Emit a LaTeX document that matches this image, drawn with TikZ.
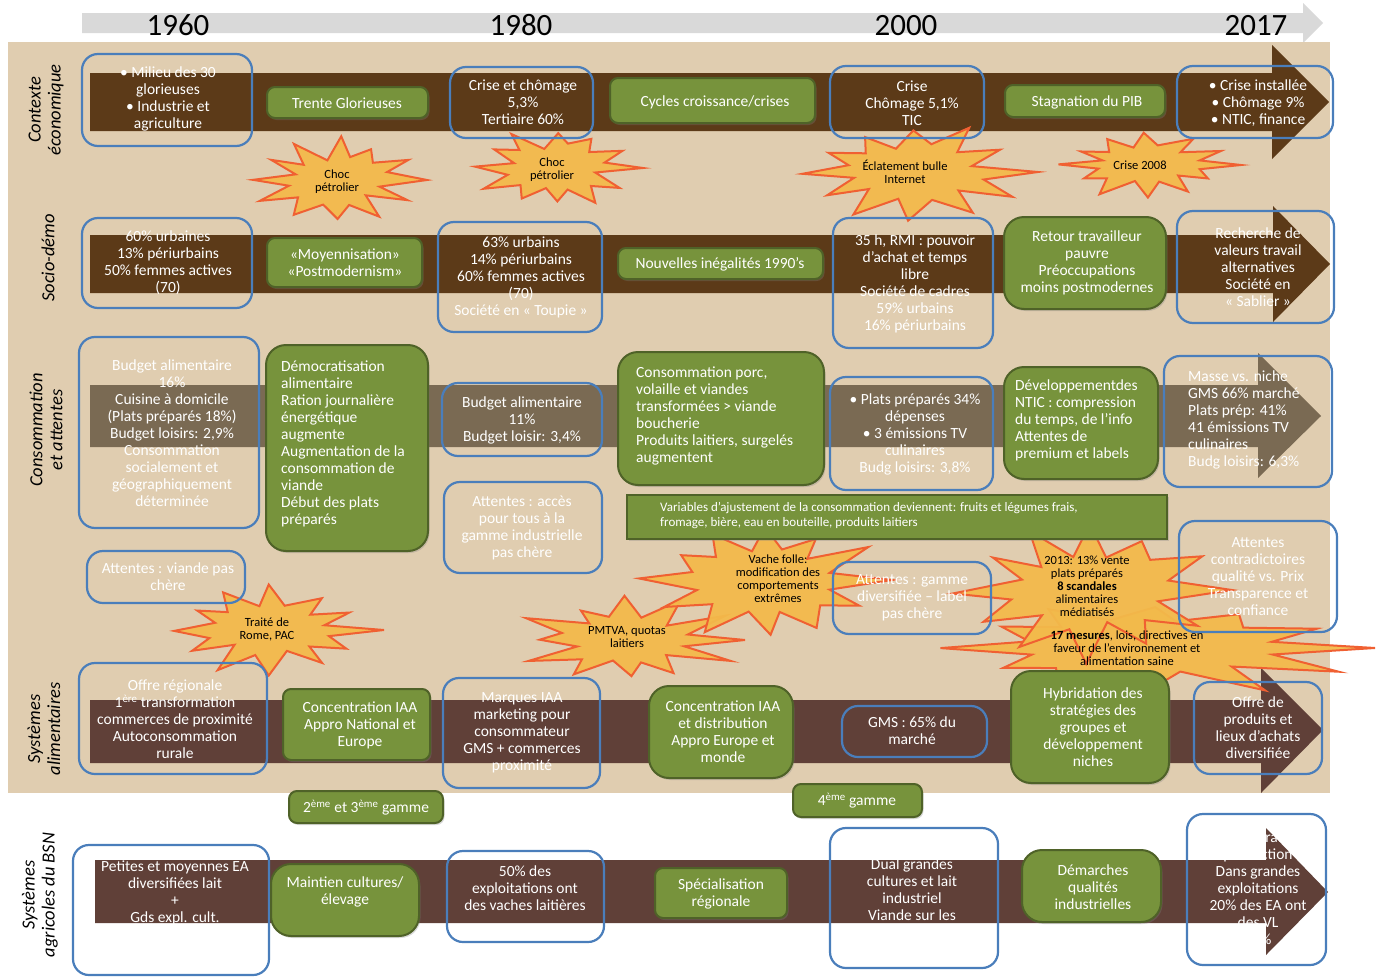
\documentclass[tikz,border=0pt]{standalone}
\usepackage{fontspec}
\setmainfont{Carlito}
\usetikzlibrary{shadows}
\definecolor{beige}{RGB}{224,205,176}
\definecolor{bandA}{RGB}{92,58,24}
\definecolor{bandC}{RGB}{122,106,83}
\definecolor{bandD}{RGB}{96,64,56}
\definecolor{myblue}{RGB}{74,126,187}
\definecolor{mygreen}{RGB}{119,147,60}
\definecolor{mygreendark}{RGB}{79,98,40}
\definecolor{burstfill}{RGB}{243,186,75}
\definecolor{burstline}{RGB}{240,96,50}
\definecolor{timegrey}{RGB}{217,217,217}
\tikzset{
 wt/.style={text=white, font=\fontsize{15.5}{17}\selectfont, align=center, inner sep=0pt},
 wtl/.style={wt, align=left, anchor=north west},
 bt/.style={text=black, font=\fontsize{12.5}{13}\selectfont, align=center, inner sep=0pt},
 bluebox/.style={draw=myblue, line width=2.2pt, rounded corners=16pt},
 greenbox/.style={draw=mygreendark, fill=mygreen, line width=2pt, rounded corners=8pt,
   drop shadow={shadow xshift=1.5pt, shadow yshift=-2pt, opacity=0.3}},
 biggreen/.style={greenbox, rounded corners=20pt},
 rowlabel/.style={font=\fontsize{18.5}{20}\selectfont\itshape, align=center, rotate=90, inner sep=0pt},
 year/.style={font=\fontsize{31}{31}\selectfont, anchor=base, inner sep=0pt},
 burstshape/.style={fill=burstfill, draw=burstline, line width=2pt, line join=miter, fill opacity=0.95},
}
\newcommand\bx[6][]{\node[#1, minimum width={#5-#3}, minimum height={#6-#4}, inner sep=0pt] (#2) at ({(#3+#5)/2},{(#4+#6)/2}) {};}
\newcommand\burst[5]{%
 \pgfmathsetseed{#5}%
 \draw[burstshape, shift={(#1,#2)}] (#3,0)
 \foreach \ii [evaluate=\ii as \burstr using {(mod(\ii,2)==0) ? (0.75+0.25*rnd) : (0.45+0.14*rnd)},
               evaluate=\ii as \bursta using {\ii*15+6*(rnd-0.5)}] in {1,...,23}
   { -- ({\burstr*#3*cos(\bursta)},{\burstr*#4*sin(\bursta)}) } -- cycle;}
\begin{document}
\begin{tikzpicture}[x=1pt,y=-1pt]
\useasboundingbox (0,0) rectangle (1379,977);
% timeline
\fill[timegrey] (82,13) -- (1303,13) -- (1303,3) -- (1323,23) -- (1303,43) -- (1303,33) -- (82,33) -- cycle;
\node[year] (y1960) at (178,35) {1960};
\node[year] (y1980) at (521,35) {1980};
\node[year] (y2000) at (906,35) {2000};
\node[year] (y2017) at (1256,35) {2017};
% background
\fill[beige] (8,42) rectangle (1330,793);
% bands
\fill[bandA] (90,73) -- (1272,73) -- (1272,45) -- (1329,102) -- (1272,159) -- (1272,131) -- (90,131) -- cycle;
\fill[bandA] (90,235) -- (1273,235) -- (1273,206) -- (1330,264) -- (1273,322) -- (1273,293) -- (90,293) -- cycle;
\fill[bandC] (90,385) -- (1258,385) -- (1258,353) -- (1321,416) -- (1258,478) -- (1258,447) -- (90,447) -- cycle;
\fill[bandD] (90,700) -- (1261,700) -- (1261,668) -- (1323,730) -- (1261,793) -- (1261,763) -- (90,763) -- cycle;
\fill[bandD] (95,860) -- (1266,860) -- (1266,828) -- (1328,892) -- (1266,955) -- (1266,923) -- (95,923) -- cycle;
% row labels
\node[rowlabel] (l1) at (46,110) {Contexte\\économique};
\node[rowlabel] (l2) at (48,258) {Socio-démo};
\node[rowlabel] (l3) at (46,430) {Consommation\\et attentes};
\node[rowlabel] (l4) at (44,729) {Systèmes\\alimentaires};
\node[rowlabel] (l5) at (40,895) {Systèmes\\agricoles du BSN};
% bursts
\burst{337}{180}{90}{44}{3}
\burst{555}{168}{88}{43}{7}
\burst{913}{172}{125}{53}{11}
\burst{1146}{165}{95}{34}{5}
\burst{272}{630}{112}{46}{13}
\burst{628}{640}{117}{46}{17}
\burst{1150}{648}{225}{50}{29}
\burst{1090}{590}{142}{74}{23}
\burst{765}{580}{127}{64}{19}
\node[bt] (s1) at (337,182) {Choc\\pétrolier};
\node[bt] (s2) at (552,170) {Choc\\pétrolier};
\node[bt] (s3) at (905,172) {Éclatement bulle\\Internet};
\node[bt] (s4) at (1140,165) {Crise 2008};
\node[bt] (s5) at (267,629) {Traité de\\Rome, PAC};
\node[bt] (s6) at (627,637) {PMTVA, quotas\\laitiers};
\node[bt] (s7) at (778,579) {Vache folle:\\modification des\\comportements\\extrêmes};
\node[bt] (s8) at (1087,586) {2013: 13\% vente\\plats préparés\\\textbf{8 scandales}\\alimentaires\\médiatisés};
\node[bt] (s9) at (1127,648) {\textbf{17 mesures}, lois, directives en\\faveur de l’environnement et\\alimentation saine};
% row 1
\bx[bluebox]{b1}{82}{54}{252}{146}
\node[wt] (t1) at (168,99) {• Milieu des 30\\glorieuses\\• Industrie et\\agriculture};
\bx[greenbox]{g1}{267}{87}{428}{118}
\node[wt] (u1) at (347,103) {Trente Glorieuses};
\bx[bluebox]{b2}{450}{67}{593}{138}
\node[wt] (t2) at (523,102) {Crise et chômage\\5,3\%\\Tertiaire 60\%};
\bx[greenbox]{g2}{610}{78}{815}{123}
\node[wt] (u2) at (715,102) {Cycles croissance/crises};
\bx[bluebox]{b3}{830}{66}{984}{138}
\node[wt] (t3) at (912,103) {Crise\\Chômage 5,1\%\\TIC};
\bx[greenbox]{g3}{1005}{85}{1165}{117}
\node[wt] (u3) at (1087,102) {Stagnation du PIB};
\bx[bluebox]{b4}{1177}{66}{1333}{138}
\node[wt] (t4) at (1258,103) {• Crise installée\\• Chômage 9\%\\• NTIC, finance};
% row 2
\bx[bluebox]{b5}{82}{218}{252}{308}
\node[wt] (t5) at (168,263) {60\% urbaines\\13\% périurbains\\50\% femmes actives\\(70)};
\bx[greenbox]{g4}{267}{238}{422}{287}
\node[wt] (u4) at (345,263) {«Moyennisation»\\«Postmodernism»};
\bx[bluebox]{b6}{438}{222}{602}{332}
\node[wt] (t6) at (521,277) {63\% urbains\\14\% périurbains\\60\% femmes actives\\(70)\\Société en « Toupie »};
\bx[greenbox]{g5}{618}{248}{823}{279}
\node[wt] (u5) at (720,264) {Nouvelles inégalités 1990’s};
\bx[bluebox]{b7}{833}{218}{993}{348}
\node[wt] (t7) at (915,284) {35 h, RMI : pouvoir\\d’achat et temps\\libre\\Société de cadres\\59\% urbains\\16\% périurbains};
\bx[biggreen]{g6}{1004}{217}{1166}{309}
\node[wt] (u6) at (1087,263) {Retour travailleur\\pauvre\\Préoccupations\\moins postmodernes};
\bx[bluebox]{b8}{1177}{211}{1334}{323}
\node[wt] (t8) at (1258,267) {Recherche de\\valeurs travail\\alternatives\\Société en\\« Sablier »};
% row 3
\bx[bluebox]{b9}{79}{337}{259}{528}
\node[wt] (t9) at (172,433) {Budget alimentaire\\16\%\\Cuisine à domicile\\(Plats préparés 18\%)\\Budget loisirs: 2,9\%\\Consommation\\socialement et\\géographiquement\\déterminée};
\bx[biggreen]{g7}{266}{345}{428}{551}
\node[wtl] (u7) at (281,361) {Démocratisation\\alimentaire\\Ration journalière\\énergétique\\augmente\\Augmentation de la\\consommation de\\viande\\Début des plats\\préparés};
\bx[bluebox]{b10}{442}{383}{602}{456}
\node[wt] (t10) at (522,420) {Budget alimentaire\\11\%\\Budget loisir: 3,4\%};
\bx[bluebox]{b11}{444}{482}{602}{573}
\node[wt] (t11) at (522,528) {Attentes : accès\\pour tous à la\\gamme industrielle\\pas chère};
\bx[biggreen]{g8}{618}{352}{824}{485}
\node[wtl] (u8) at (636,367) {Consommation porc,\\volaille et viandes\\transformées > viande\\boucherie\\Produits laitiers, surgelés\\augmentent};
\bx[bluebox]{b12}{830}{377}{993}{490}
\node[wt] (t12) at (915,434) {• Plats préparés 34\%\\dépenses\\• 3 émissions TV\\culinaires\\Budg loisirs: 3,8\%};
\bx[biggreen]{g9}{1004}{367}{1158}{479}
\node[wtl] (u9) at (1015,380) {Développementdes\\NTIC : compression\\du temps, de l’info\\Attentes de\\premium et labels};
\bx[bluebox]{b13}{1164}{356}{1332}{487}
\node[wtl] (t13) at (1188,371) {Masse vs. niche\\GMS 66\% marché\\Plats prép: 41\%\\41 émissions TV\\culinaires\\Budg loisirs: 6,3\%};
\node[draw=mygreendark, fill=mygreen, line width=2pt, minimum width=540, minimum height=44, inner sep=0pt,
  drop shadow={shadow xshift=1.5pt, shadow yshift=-2pt, opacity=0.3}] (g10) at (897,517) {};
\node[wtl, font=\fontsize{13}{15}\selectfont] (u10) at (660,502) {Variables d’ajustement de la consommation deviennent: fruits et légumes frais,\\fromage, bière, eau en bouteille, produits laitiers};
\bx[bluebox]{b14}{87}{551}{245}{603}
\node[wt] (t14) at (168,577) {Attentes : viande pas\\chère};
\bx[bluebox]{b15}{833}{562}{991}{634}
\node[wt] (t15) at (912,598) {Attentes : gamme\\diversifiée – label\\pas chère};
\bx[bluebox]{b16}{1179}{521}{1337}{632}
\node[wt] (t16) at (1258,577) {Attentes\\contradictoires\\qualité vs. Prix\\Transparence et\\confiance};
% row 4
\bx[bluebox]{b17}{79}{663}{267}{774}
\node[wt] (t17) at (175,719) {Offre régionale\\1\textsuperscript{ère} transformation\\commerces de proximité\\Autoconsommation\\rurale};
\bx[greenbox]{g11}{283}{689}{430}{760}
\node[wt] (u11) at (360,725) {Concentration IAA\\Appro National et\\Europe};
\bx[bluebox]{b18}{443}{678}{600}{788}
\node[wt] (t18) at (522,733) {Marques IAA\\marketing pour\\consommateur\\GMS + commerces\\proximité};
\bx[biggreen]{g12}{649}{686}{793}{778}
\node[wt] (u12) at (723,732) {Concentration IAA\\et distribution\\Appro Europe et\\monde};
\bx[bluebox]{b19}{842}{706}{987}{757}
\node[wt] (t19) at (912,731) {GMS : 65\% du\\marché};
\bx[biggreen]{g13}{1011}{671}{1169}{783}
\node[wt] (u13) at (1093,727) {Hybridation des\\stratégies des\\groupes et\\développement\\niches};
\bx[bluebox]{b20}{1194}{682}{1322}{774}
\node[wt] (t20) at (1258,728) {Offre de\\produits et\\lieux d’achats\\diversifiée};
\bx[greenbox]{g14}{289}{791}{443}{823}
\node[wt] (u14) at (366,808) {2\textsuperscript{ème} et 3\textsuperscript{ème} gamme};
\bx[greenbox]{g15}{793}{784}{922}{817}
\node[wt] (u15) at (857,801) {4\textsuperscript{ème} gamme};
% row 5
\bx[bluebox]{b21}{73}{845}{269}{975}
\node[wt] (t21) at (175,893) {Petites et moyennes EA\\diversifiées lait\\+\\Gds expl. cult.};
\bx[biggreen]{g16}{271}{864}{419}{936}
\node[wt] (u16) at (345,892) {Maintien cultures/\\élevage};
\bx[bluebox]{b22}{447}{851}{604}{942}
\node[wt] (t22) at (525,888) {50\% des\\exploitations ont\\des vaches laitières};
\bx[greenbox]{g17}{655}{868}{787}{918}
\node[wt] (u17) at (721,894) {Spécialisation\\régionale};
\bx[bluebox]{b23}{830}{828}{998}{968}
\node[wt] (t23) at (912,890) {Dual grandes\\cultures et lait\\industriel\\Viande sur les};
\bx[biggreen]{g18}{1022}{850}{1161}{922}
\node[wt] (u18) at (1093,887) {Démarches\\qualités\\industrielles};
\bx[bluebox]{b24}{1187}{814}{1326}{965}
\node[wt] (t24) at (1258,888) {Concentration\\production\\Dans grandes\\exploitations\\20\% des EA ont\\des VL\\66\%};
\end{tikzpicture}
\end{document}
